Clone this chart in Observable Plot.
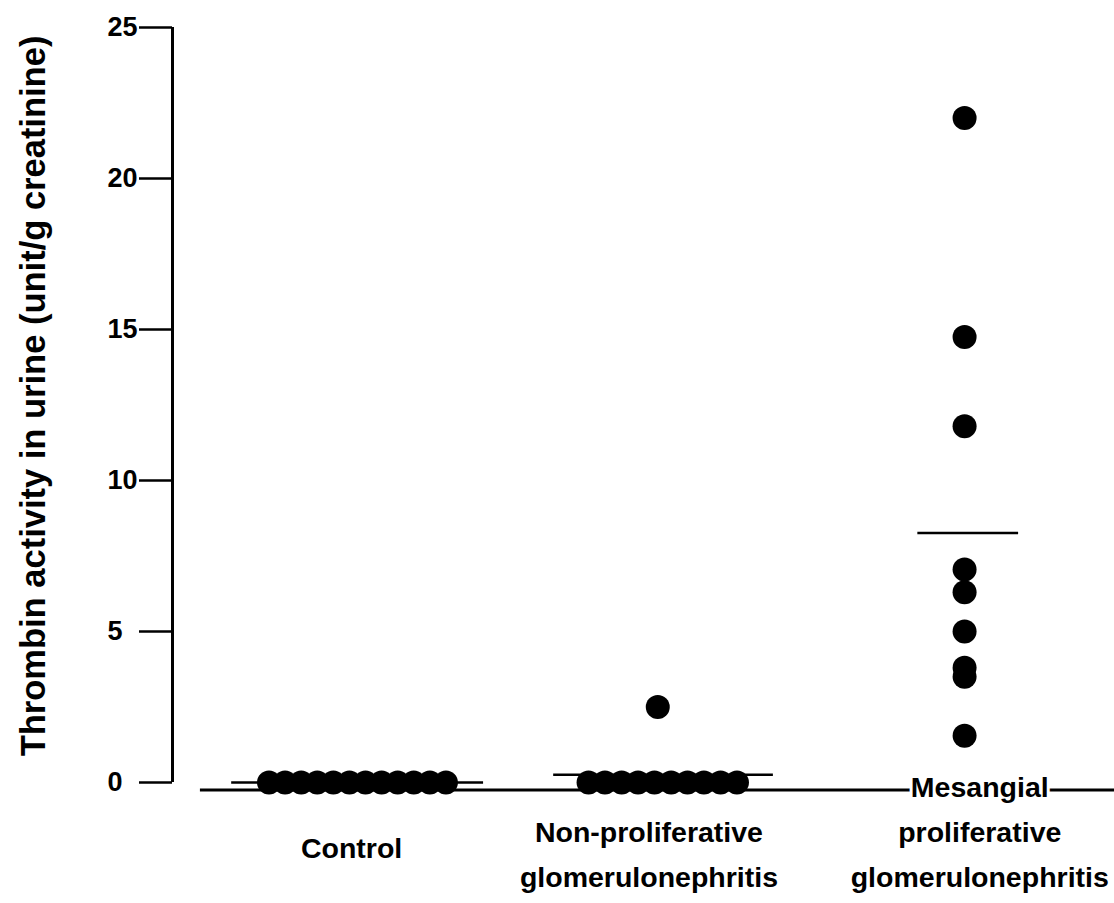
<!DOCTYPE html>
<html><head><meta charset="utf-8">
<script src="https://cdn.jsdelivr.net/npm/d3@7"></script>
<script src="https://cdn.jsdelivr.net/npm/@observablehq/plot@0.6"></script>
<style>body{margin:0;background:#fff;}</style>
</head><body><div id="chart"></div>
<script>
// ---- data ----
const categories = ["Control", "Non-proliferative glomerulonephritis", "Mesangial proliferative glomerulonephritis"];
const categoryLabelLines = [["Control"], ["Non-proliferative", "glomerulonephritis"], ["Mesangial", "proliferative", "glomerulonephritis"]];
const controlValues = [0, 0, 0, 0, 0, 0, 0, 0, 0, 0, 0, 0];
const controlJitter = [-0.292, -0.239, -0.186, -0.133, -0.080, -0.027, 0.026, 0.079, 0.132, 0.185, 0.238, 0.291];
const nonProliferativeValues = [0, 0, 0, 0, 0, 0, 0, 0, 0, 0, 2.5];
const nonProliferativeJitter = [-0.239, -0.185, -0.130, -0.076, -0.022, 0.033, 0.087, 0.141, 0.196, 0.250, -0.011];
const mesangialValues = [22.0, 14.75, 11.8, 7.05, 6.3, 5.0, 3.8, 3.5, 1.55];
const mesangialJitter = [0, 0, 0, 0, 0, 0, 0, 0, 0];
const meanValues = [0.0, 0.26, 8.26];
const yTicks = [0, 5, 10, 15, 20, 25];
const yTitle = "Thrombin activity in urine (unit/g creatinine)";

// ---- layout / style ----
const meanHalfWidth = [0.415, 0.362, 0.166];
const meanShift = [0, 0.008, 0.012];
const labelShift = [-0.02, -0.04, 0.05];
const labelDy = [61, 68, 45];
const xDomain = [0.39, 3.494];
const baseline = -0.25;
const font = "'Liberation Sans', Arial, Helvetica, sans-serif";

const points = [];
[[controlValues, controlJitter], [nonProliferativeValues, nonProliferativeJitter], [mesangialValues, mesangialJitter]]
  .forEach(([vals, jit], i) => vals.forEach((v, j) => points.push({group: categories[i], x: i + 1 + jit[j], y: v})));
const means = meanValues.map((m, i) => ({group: categories[i], y: m, x1: i + 1 + meanShift[i] - meanHalfWidth[i], x2: i + 1 + meanShift[i] + meanHalfWidth[i]}));
const labels = categoryLabelLines.map((lines, i) => ({x: i + 1 + labelShift[i], text: lines.join("\n")}));

const plot = Plot.plot({
  width: 1114,
  height: 903,
  marginLeft: 172,
  marginRight: 0,
  marginTop: 27,
  marginBottom: 121,
  style: {fontFamily: font, fontWeight: "bold", fontSize: "27px", background: "white", color: "black"},
  x: {type: "linear", domain: xDomain, axis: null},
  y: {domain: [0, 25]},
  marks: [
    Plot.axisY(yTicks, {tickSize: 33, tickPadding: 32, textAnchor: "start", strokeWidth: 2.5, label: null, fontSize: 27}),
    Plot.ruleX([xDomain[0]], {y1: 0, y2: 25, strokeWidth: 3}),
    Plot.ruleY([baseline], {x1: 0.482, x2: xDomain[1], strokeWidth: 3}),
    Plot.ruleY(means, {y: "y", x1: "x1", x2: "x2", strokeWidth: 2.5}),
    Plot.dot(points, {x: "x", y: "y", r: 12, fill: "black", stroke: "none"}),
    ...labels.map((d, i) => Plot.text([d], {x: "x", text: "text", frameAnchor: "bottom", dy: labelDy[i], lineAnchor: "middle", lineHeight: 1.58, fontSize: 28.5, fill: "black", stroke: "white", strokeWidth: 6})),
    Plot.text([yTitle], {frameAnchor: "left", textAnchor: "middle", rotate: -90, dx: -139, dy: -9, fontSize: 34.5})
  ]
});
document.getElementById("chart").append(plot);
</script></body></html>
